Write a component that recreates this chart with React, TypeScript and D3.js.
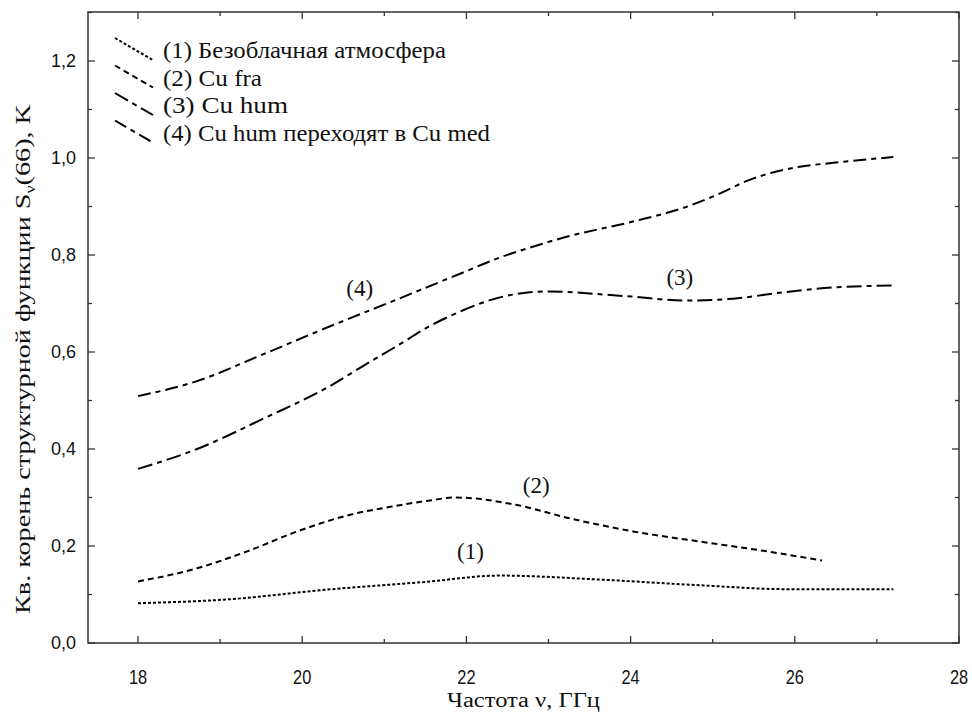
import React from "react";
import * as d3 from "d3";

// series: frequency (GHz) and sqrt of structure function (K)
const clearX = [18, 19.1, 20.3, 21.5, 22.4, 23.6, 24.85, 25.9, 27.2];
const clearY = [0.082, 0.09, 0.11, 0.126, 0.139, 0.131, 0.119, 0.111, 0.111];

const fraX = [18, 18.72, 19.33, 19.94, 20.55, 21.15, 21.56, 21.86, 22.6, 23.26, 24.03, 24.85, 25.66, 26.33];
const fraY = [0.127, 0.154, 0.189, 0.23, 0.263, 0.283, 0.294, 0.3, 0.285, 0.257, 0.23, 0.209, 0.189, 0.17];

const humX = [18, 18.72, 19.52, 20.34, 20.74, 21.15, 21.56, 21.96, 22.37, 22.77, 23.02, 23.63, 24.11, 24.64, 25.25, 25.86, 26.47, 27.2];
const humY = [0.359, 0.4, 0.462, 0.53, 0.571, 0.612, 0.654, 0.686, 0.711, 0.723, 0.725, 0.719, 0.713, 0.706, 0.71, 0.723, 0.733, 0.737];

const medX = [18, 18.72, 19.52, 20.34, 21.15, 21.96, 22.41, 22.77, 23.23, 24.03, 24.64, 25.05, 25.45, 26.06, 26.47, 27.2];
const medY = [0.509, 0.54, 0.595, 0.653, 0.708, 0.764, 0.795, 0.815, 0.838, 0.869, 0.897, 0.924, 0.955, 0.982, 0.99, 1.002];

const legendLabels = [
  "(1) Безоблачная атмосфера",
  "(2) Cu fra",
  "(3) Cu hum",
  "(4) Cu hum переходят в Cu med",
];
// rough widths of the legend lines in the original
const legendWidths = [283, 99, 125, 327];
const curveTags = ["(1)", "(2)", "(3)", "(4)"];
// where the tags sit on the curves (frequency, value)
const tagX = [22.05, 22.85, 24.6, 20.7];
const tagY = [0.19, 0.325, 0.755, 0.733];

const xTicks = [18, 20, 22, 24, 26, 28];
const yTicks = [0, 0.2, 0.4, 0.6, 0.8, 1.0, 1.2];

const dashes = ["3,2", "6,4", "15,5,5,5", "13,5,5,5"];

const serif = "'Liberation Serif', 'Times New Roman', serif";
const sans = "'Liberation Sans', Arial, sans-serif";

const App = () => {
  const width = 972;
  const height = 712;
  const frame = { left: 88, right: 959, top: 12, bottom: 643 };

  const xScale = d3.scaleLinear().domain([18, 28]).range([138, frame.right]);
  const yScale = d3.scaleLinear().domain([0, 1]).range([frame.bottom, 158]);

  const series = [
    d3.zip(clearX, clearY),
    d3.zip(fraX, fraY),
    d3.zip(humX, humY),
    d3.zip(medX, medY),
  ];

  const line = d3
    .line<number[]>()
    .x((d) => xScale(d[0]))
    .y((d) => yScale(d[1]))
    .curve(d3.curveMonotoneX);

  const xMinor = d3.range(18, 28.01, 1);
  const yMinor = d3.range(0, 1.301, 0.1);
  const fmt = (v: number) => v.toFixed(1).replace(".", ",");

  return (
    <svg
      width={width}
      height={height}
      style={{ position: "absolute", left: 0, top: 0, background: "#fff" }}
    >
      <rect
        x={frame.left}
        y={frame.top}
        width={frame.right - frame.left}
        height={frame.bottom - frame.top}
        fill="none"
        stroke="#333"
        strokeWidth={1.5}
      />
      {xMinor.map((v) => {
        const big = Math.round(v) % 2 === 0;
        const len = big ? 7 : 4;
        return (
          <g key={"xt" + v} stroke="#333" strokeWidth={1.3}>
            <line x1={xScale(v)} x2={xScale(v)} y1={frame.bottom} y2={frame.bottom - len} />
            <line x1={xScale(v)} x2={xScale(v)} y1={frame.top} y2={frame.top + len} />
          </g>
        );
      })}
      {yMinor.map((v) => {
        const big = Math.round(v * 10) % 2 === 0;
        const len = big ? 7 : 4;
        return (
          <g key={"yt" + v} stroke="#333" strokeWidth={1.3}>
            <line x1={frame.left} x2={frame.left + len} y1={yScale(v)} y2={yScale(v)} />
            <line x1={frame.right} x2={frame.right - len} y1={yScale(v)} y2={yScale(v)} />
          </g>
        );
      })}
      {xTicks.map((v) => (
        <text
          key={"xl" + v}
          transform={`translate(${xScale(v)}, 684) scale(0.82, 1)`}
          textAnchor="middle"
          fontFamily={sans}
          fontSize={20}
          fill="#111"
        >
          {v}
        </text>
      ))}
      {yTicks.map((v) => (
        <text
          key={"yl" + v}
          x={76}
          y={yScale(v)}
          dy="0.35em"
          textAnchor="end"
          fontFamily={sans}
          fontSize={18}
          fill="#111"
        >
          {fmt(v)}
        </text>
      ))}
      <text
        x={(frame.left + frame.right) / 2}
        y={707}
        textAnchor="middle"
        fontFamily={serif}
        fontSize={20}
        textLength={153}
        lengthAdjust="spacingAndGlyphs"
        fill="#111"
      >
        Частота ν, ГГц
      </text>
      <text
        transform={`translate(30, 359) rotate(-90)`}
        textAnchor="middle"
        fontFamily={serif}
        fontSize={22}
        textLength={510}
        lengthAdjust="spacingAndGlyphs"
        fill="#111"
      >
        Кв. корень структурной функции S
        <tspan fontSize={14} dy={5}>ν</tspan>
        <tspan dy={-5}>(66), K</tspan>
      </text>
      {series.map((s, i) => (
        <path
          key={"s" + i}
          d={line(s) || ""}
          fill="none"
          stroke="#000"
          strokeWidth={2}
          strokeDasharray={dashes[i]}
        />
      ))}
      {curveTags.map((t, i) => (
        <text
          key={"tag" + i}
          x={xScale(tagX[i])}
          y={yScale(tagY[i])}
          dy="0.35em"
          textAnchor="middle"
          fontFamily={serif}
          fontSize={23}
          fill="#111"
        >
          {t}
        </text>
      ))}
      {legendLabels.map((label, i) => {
        const cy = 50 + i * 27.5;
        return (
          <g key={"lg" + i}>
            <line
              x1={115}
              y1={cy - 12}
              x2={153}
              y2={cy + 10}
              stroke="#000"
              strokeWidth={2}
              strokeDasharray={dashes[i]}
            />
            <text
              x={163}
              y={cy}
              dy="0.35em"
              fontFamily={serif}
              fontSize={23}
              textLength={legendWidths[i]}
              lengthAdjust="spacingAndGlyphs"
              fill="#111"
            >
              {label}
            </text>
          </g>
        );
      })}
    </svg>
  );
};

export default App;
